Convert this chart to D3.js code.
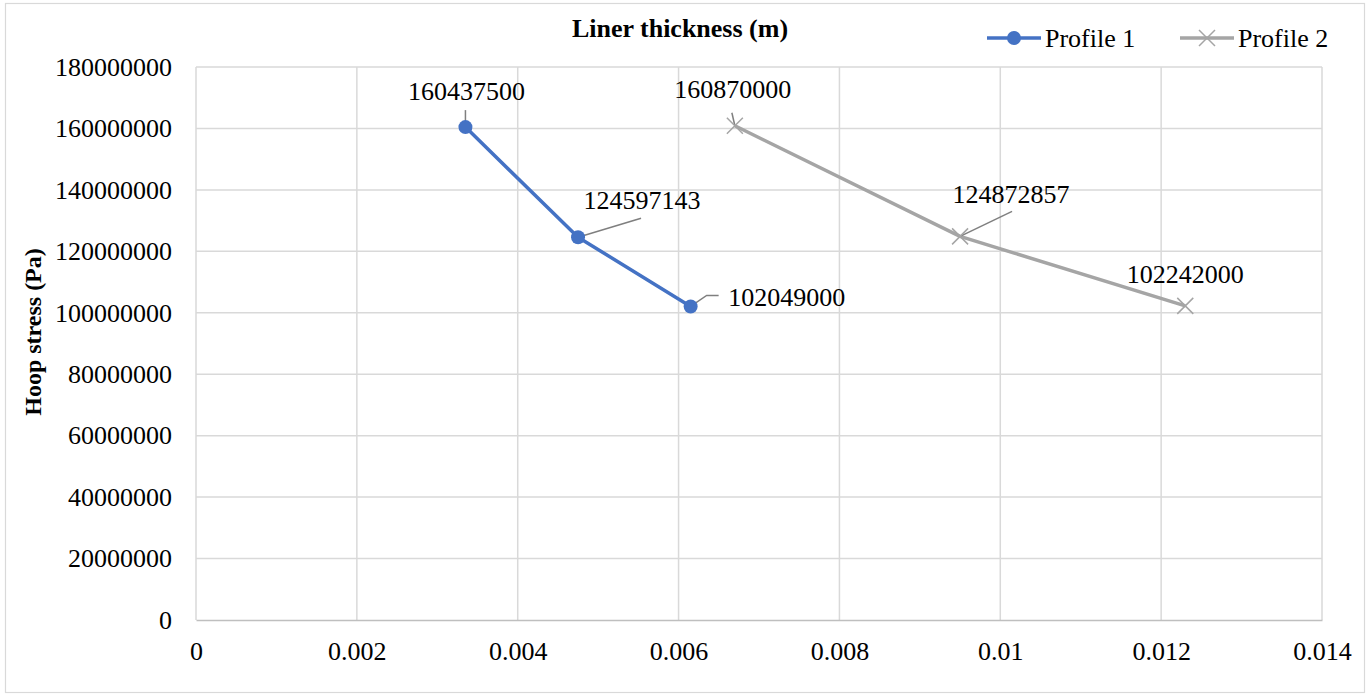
<!DOCTYPE html>
<html>
<head>
<meta charset="utf-8">
<script src="https://cdn.jsdelivr.net/npm/d3@7/dist/d3.min.js"></script>
<style>
  html, body { margin: 0; padding: 0; background: #fff; }
  svg { display: block; font-family: "Liberation Serif", "Times New Roman", serif; }
</style>
</head>
<body>
<svg id="chart" width="1369" height="696"></svg>
<script>
// ---- data ----
const profile1X = [0.00335, 0.00475, 0.00615];
const profile1Y = [160437500, 124597143, 102049000];
const profile2X = [0.0067, 0.0095, 0.0123];
const profile2Y = [160870000, 124872857, 102242000];
const seriesNames = ["Profile 1", "Profile 2"];
const xTicks = [0, 0.002, 0.004, 0.006, 0.008, 0.01, 0.012, 0.014];
const yTicks = [0, 20000000, 40000000, 60000000, 80000000, 100000000, 120000000, 140000000, 160000000, 180000000];
const chartTitle = "Liner thickness (m)";
const yAxisTitle = "Hoop stress (Pa)";

// label offsets (layout only): [dx, dy] of label centre from point, and leader end
const labelLayout1 = [
  { dx: 1, dy: -36, leader: [[0, -4], [0, -17]] },
  { dx: 64, dy: -37, leader: [[0, 0], [63, -19]] },
  { dx: 96, dy: -9, leader: [[0, 0], [16, -11], [28, -11]] }
];
const labelLayout2 = [
  { dx: -2, dy: -37, leader: [[0, 0], [-3, -13]] },
  { dx: 51, dy: -42, leader: [[0, 0], [52, -25]] },
  { dx: 0, dy: -32, leader: null }
];

const svg = d3.select("#chart");
const m = { left: 196, right: 1322, top: 67, bottom: 620 };
const serif = "Liberation Serif, Times New Roman, serif";

// outer border
svg.append("rect").attr("x", 5.5).attr("y", 3.5).attr("width", 1359).attr("height", 689)
  .attr("fill", "#fff").attr("stroke", "#D9D9D9").attr("stroke-width", 1.2);

const x = d3.scaleLinear().domain([0, 0.014]).range([m.left, m.right]);
const y = d3.scaleLinear().domain([0, 180000000]).range([m.bottom, m.top]);

// gridlines
svg.append("g").selectAll("line").data(yTicks.filter(d => d > 0)).join("line")
  .attr("x1", m.left).attr("x2", m.right)
  .attr("y1", d => y(d)).attr("y2", d => y(d))
  .attr("stroke", "#D9D9D9").attr("stroke-width", 1.5);
svg.append("g").selectAll("line").data(xTicks).join("line")
  .attr("x1", d => x(d)).attr("x2", d => x(d))
  .attr("y1", m.top).attr("y2", m.bottom)
  .attr("stroke", "#D9D9D9").attr("stroke-width", 1.5);

// axes
const xAxis = d3.axisBottom(x).tickValues(xTicks).tickSize(0).tickPadding(22)
  .tickFormat(d => d3.format("")(+d.toFixed(3)));
const gx = svg.append("g").attr("transform", `translate(0,${m.bottom})`).call(xAxis);
gx.attr("font-family", serif);
gx.select(".domain").attr("stroke", "#BFBFBF").attr("stroke-width", 1.5);
gx.selectAll("text").attr("font-size", 26).attr("fill", "#000");

const yAxis = d3.axisLeft(y).tickValues(yTicks).tickSize(0).tickPadding(24)
  .tickFormat(d => String(d));
const gy = svg.append("g").attr("transform", `translate(${m.left},0)`).call(yAxis);
gy.attr("font-family", serif);
gy.select(".domain").remove();
gy.selectAll("text").attr("font-size", 26).attr("fill", "#000");

// titles
svg.append("text").attr("x", 680).attr("y", 37).attr("text-anchor", "middle")
  .attr("font-size", 26).attr("font-weight", "bold").text(chartTitle);
svg.append("text").attr("transform", "translate(41,332) rotate(-90)")
  .attr("text-anchor", "middle").attr("font-size", 24).attr("font-weight", "bold").text(yAxisTitle);

// series
const line = d3.line().x(d => x(d[0])).y(d => y(d[1]));
const p1 = profile1X.map((v, i) => [v, profile1Y[i]]);
const p2 = profile2X.map((v, i) => [v, profile2Y[i]]);

svg.append("path").datum(p1).attr("d", line).attr("fill", "none")
  .attr("stroke", "#4472C4").attr("stroke-width", 3.5).attr("stroke-linejoin", "round");
svg.append("path").datum(p2).attr("d", line).attr("fill", "none")
  .attr("stroke", "#A5A5A5").attr("stroke-width", 3.5).attr("stroke-linejoin", "round");

// leader lines
function leaders(data, layout) {
  data.forEach((d, i) => {
    const L = layout[i];
    if (!L.leader) return;
    const px = x(d[0]), py = y(d[1]);
    svg.append("path")
      .attr("d", d3.line()(L.leader.map(p => [px + p[0], py + p[1]])))
      .attr("fill", "none").attr("stroke", "#7F7F7F").attr("stroke-width", 1.5);
  });
}
leaders(p1, labelLayout1);
leaders(p2, labelLayout2);

// markers
svg.append("g").selectAll("circle").data(p1).join("circle")
  .attr("cx", d => x(d[0])).attr("cy", d => y(d[1])).attr("r", 7)
  .attr("fill", "#4472C4");
const xs = 8;
svg.append("g").selectAll("path").data(p2).join("path")
  .attr("d", d => {
    const cx = x(d[0]), cy = y(d[1]);
    return `M${cx - xs},${cy - xs}L${cx + xs},${cy + xs}M${cx - xs},${cy + xs}L${cx + xs},${cy - xs}`;
  })
  .attr("stroke", "#A5A5A5").attr("stroke-width", 1.5).attr("fill", "none");

// data labels
function labels(data, layout) {
  svg.append("g").selectAll("text").data(data).join("text")
    .attr("x", (d, i) => x(d[0]) + layout[i].dx)
    .attr("y", (d, i) => y(d[1]) + layout[i].dy + 9)
    .attr("text-anchor", "middle").attr("font-size", 26).attr("fill", "#000")
    .text(d => String(d[1]));
}
labels(p1, labelLayout1);
labels(p2, labelLayout2);

// legend
const legendItems = [
  { name: seriesNames[0], x0: 987, color: "#4472C4", marker: "circle" },
  { name: seriesNames[1], x0: 1180, color: "#A5A5A5", marker: "x" }
];
const ly = 38;
legendItems.forEach(it => {
  const g = svg.append("g");
  g.append("line").attr("x1", it.x0).attr("x2", it.x0 + 54).attr("y1", ly).attr("y2", ly)
    .attr("stroke", it.color).attr("stroke-width", 3.5);
  const cx = it.x0 + 27;
  if (it.marker === "circle") {
    g.append("circle").attr("cx", cx).attr("cy", ly).attr("r", 7).attr("fill", it.color);
  } else {
    g.append("path").attr("d", `M${cx - xs},${ly - xs}L${cx + xs},${ly + xs}M${cx - xs},${ly + xs}L${cx + xs},${ly - xs}`)
      .attr("stroke", it.color).attr("stroke-width", 1.5);
  }
  g.append("text").attr("x", it.x0 + 58).attr("y", ly + 9).attr("font-size", 26).attr("fill", "#000").text(it.name);
});
</script>
</body>
</html>
